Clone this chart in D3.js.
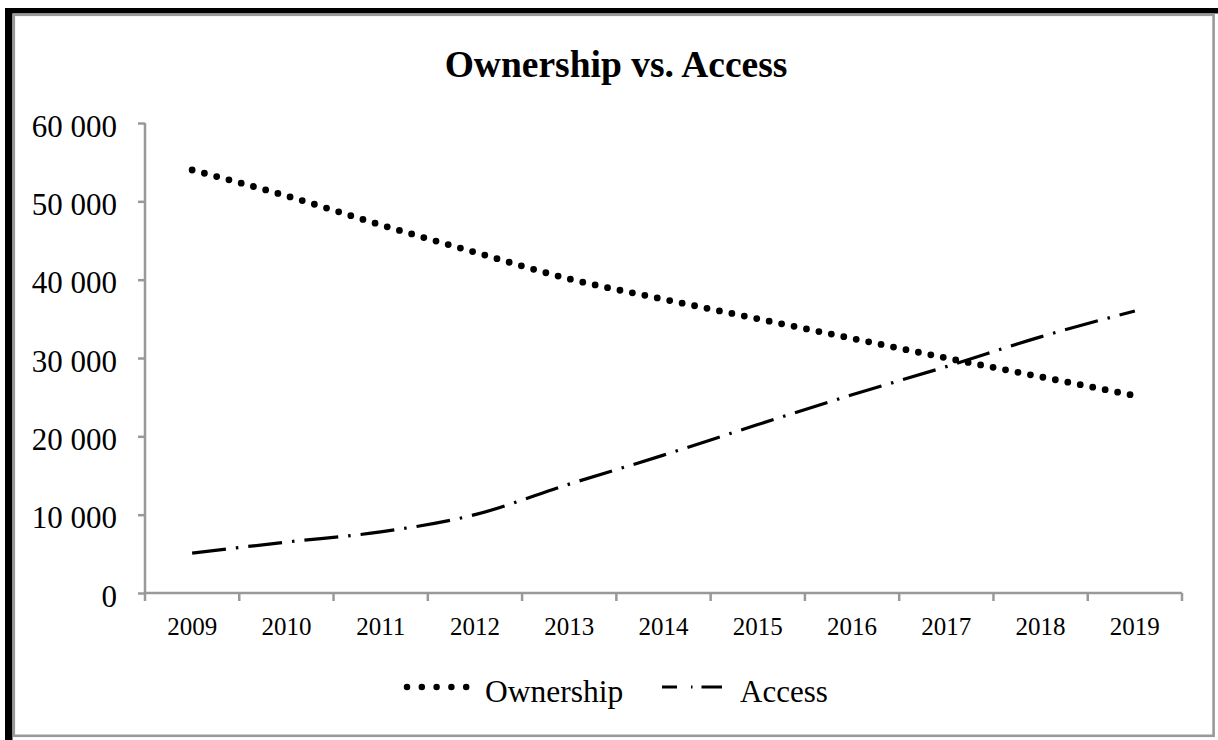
<!DOCTYPE html>
<html>
<head>
<meta charset="utf-8">
<script src="https://cdn.jsdelivr.net/npm/d3@7"></script>
<style>
  html, body { margin: 0; padding: 0; background: #fff; }
  svg { display: block; font-family: "Times New Roman", "Liberation Serif", serif; }
</style>
</head>
<body>
<svg id="chart" width="1218" height="740"></svg>
<script>
const years = ["2009", "2010", "2011", "2012", "2013", "2014", "2015", "2016", "2017", "2018", "2019"];
const ownership = [54000, 50700, 47000, 43500, 40100, 37500, 35000, 32500, 30000, 27600, 25200];
const access = [5100, 6500, 7800, 10000, 13900, 17600, 21500, 25300, 28900, 32700, 36000];
const yTicks = [0, 10000, 20000, 30000, 40000, 50000, 60000];
const seriesNames = ["Ownership", "Access"];

const width = 1218, height = 740;
const svg = d3.select("#chart");
const axisColor = "#999";

// frame: black top/left, grey box inside
svg.append("rect").attr("x", 5).attr("y", 8).attr("width", width - 5).attr("height", 5.5).attr("fill", "#000");
svg.append("rect").attr("x", 5).attr("y", 8).attr("width", 7.5).attr("height", height - 8).attr("fill", "#000");
svg.append("rect")
  .attr("x", 13.8).attr("y", 14.8)
  .attr("width", 1213.6 - 13.8).attr("height", 735.8 - 14.8)
  .attr("fill", "none").attr("stroke", axisColor).attr("stroke-width", 2.6);

// title
svg.append("text")
  .attr("x", 616).attr("y", 77)
  .attr("text-anchor", "middle")
  .style("font-weight", "bold")
  .style("font-size", "37.5px")
  .text("Ownership vs. Access");

const x = d3.scaleBand().domain(years).range([145, 1182]);
const y = d3.scaleLinear().domain([0, 60000]).range([593, 123]);
const cx = d => x(d) + x.bandwidth() / 2;

const fmt = d3.formatLocale({ decimal: ".", thousands: " ", grouping: [3], currency: ["", ""] }).format(",");

// y axis
const yAxis = svg.append("g")
  .attr("transform", "translate(145,0)")
  .call(d3.axisLeft(y).tickValues(yTicks).tickSize(7).tickPadding(21).tickFormat(fmt));
yAxis.select(".domain").attr("stroke", axisColor).attr("stroke-width", 2.5).attr("d", "M0,123V593");
yAxis.selectAll(".tick line").attr("stroke", axisColor).attr("stroke-width", 2.5);
yAxis.selectAll(".tick text")
  .attr("fill", "#000")
  .attr("dy", "0.42em")
  .style("font-family", "'Times New Roman', 'Liberation Serif', serif")
  .style("font-size", "31px");

// x axis line and boundary ticks
const bounds = years.map(d => x(d)).concat([x.range()[1]]);
const xg = svg.append("g");
xg.append("line")
  .attr("x1", 145).attr("x2", x.range()[1])
  .attr("y1", y(0)).attr("y2", y(0))
  .attr("stroke", axisColor).attr("stroke-width", 2.5);
xg.selectAll(".bt")
  .data(bounds)
  .join("line")
  .attr("class", "bt")
  .attr("x1", d => d).attr("x2", d => d)
  .attr("y1", y(0)).attr("y2", y(0) + 8)
  .attr("stroke", axisColor).attr("stroke-width", 2.5);
xg.selectAll(".xl")
  .data(years)
  .join("text")
  .attr("class", "xl")
  .attr("x", d => cx(d))
  .attr("y", 635)
  .attr("text-anchor", "middle")
  .style("font-size", "25px")
  .text(d => d);

const line = d3.line().x((d, i) => cx(years[i])).y(d => y(d)).curve(d3.curveMonotoneX);

svg.append("path")
  .datum(access)
  .attr("d", line)
  .attr("fill", "none")
  .attr("stroke", "#000")
  .attr("stroke-width", 3.2)
  .attr("stroke-dasharray", "34 10 2.5 10");

svg.append("path")
  .datum(ownership)
  .attr("d", line)
  .attr("fill", "none")
  .attr("stroke", "#000")
  .attr("stroke-width", 6.8)
  .attr("stroke-linecap", "round")
  .attr("stroke-dasharray", "0 12.7");

// legend
const lg = svg.append("g");
lg.append("line")
  .attr("x1", 407).attr("x2", 481).attr("y1", 687).attr("y2", 687)
  .attr("stroke", "#000").attr("stroke-width", 6.5)
  .attr("stroke-linecap", "round").attr("stroke-dasharray", "0 14.8");
lg.append("text").attr("x", 485).attr("y", 702).style("font-size", "31.5px").text(seriesNames[0]);
lg.append("line")
  .attr("x1", 662).attr("x2", 722).attr("y1", 687).attr("y2", 687)
  .attr("stroke", "#000").attr("stroke-width", 3.2)
  .attr("stroke-dasharray", "15 14 1.5 9 21");
lg.append("text").attr("x", 740).attr("y", 702).style("font-size", "31px").text(seriesNames[1]);
</script>
</body>
</html>
